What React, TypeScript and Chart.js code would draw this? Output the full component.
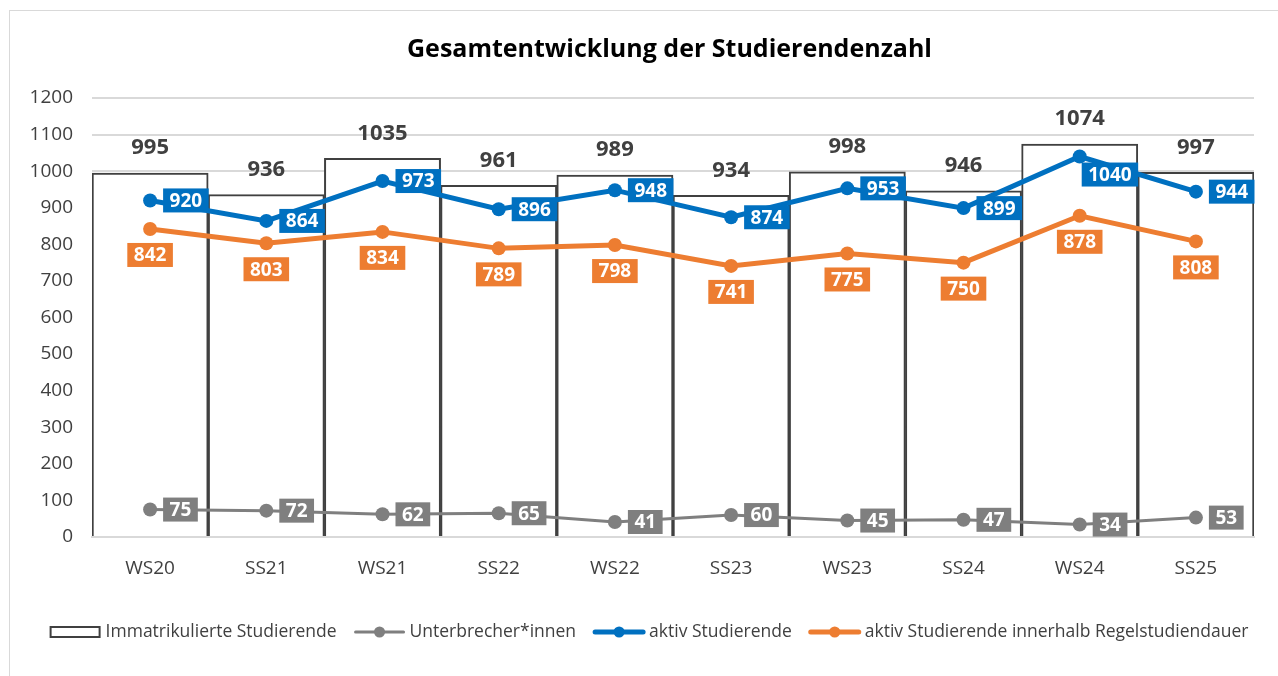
import React, { useEffect, useRef } from 'react';
import { Chart, registerables } from 'chart.js';

Chart.register(...registerables);

const chartTitle = 'Gesamtentwicklung der Studierendenzahl';
const categories = ['WS20', 'SS21', 'WS21', 'SS22', 'WS22', 'SS23', 'WS23', 'SS24', 'WS24', 'SS25'];
const immatrikuliert = [995, 936, 1035, 961, 989, 934, 998, 946, 1074, 997];
const unterbrecher = [75, 72, 62, 65, 41, 60, 45, 47, 34, 53];
const aktiv = [920, 864, 973, 896, 948, 874, 953, 899, 1040, 944];
const regelstudiendauer = [842, 803, 834, 789, 798, 741, 775, 750, 878, 808];
const yTickValues = [0, 100, 200, 300, 400, 500, 600, 700, 800, 900, 1000, 1100, 1200];
const seriesNames = [
  'Immatrikulierte Studierende',
  'Unterbrecher*innen',
  'aktiv Studierende',
  'aktiv Studierende innerhalb Regelstudiendauer',
];

const FONT = '"Open Sans", "Liberation Sans", sans-serif';
const GRAY = '#7F7F7F';
const BLUE = '#0070C0';
const ORANGE = '#ED7D31';
const TEXT = '#404040';

function drawBox(ctx: CanvasRenderingContext2D, text: string, x: number, y: number, pos: string, color: string) {
  ctx.font = `bold 19px ${FONT}`;
  const w = ctx.measureText(text).width + 13;
  const h = 24;
  let bx: number, by: number;
  if (pos === 'right') {
    bx = x + 13;
    by = y - h / 2;
  } else if (pos === 'below') {
    bx = x - w / 2;
    by = y + 14;
  } else {
    bx = x + 2;
    by = y + 6;
  }
  ctx.fillStyle = color;
  ctx.fillRect(bx, by, w, h);
  ctx.fillStyle = '#FFFFFF';
  ctx.textAlign = 'center';
  ctx.textBaseline = 'middle';
  ctx.fillText(text, bx + w / 2, by + h / 2 + 1);
}

const labelPlugin = {
  id: 'customLabels',
  afterDatasetsDraw(chart: any) {
    const ctx: CanvasRenderingContext2D = chart.ctx;
    ctx.save();
    chart.data.datasets.forEach((ds: any, i: number) => {
      const meta = chart.getDatasetMeta(i);
      meta.data.forEach((el: any, j: number) => {
        const v = ds.data[j];
        if (ds.type === 'bar') {
          ctx.font = `bold 22px ${FONT}`;
          ctx.fillStyle = TEXT;
          ctx.textAlign = 'center';
          ctx.textBaseline = 'middle';
          ctx.fillText(String(v), el.x, el.y - 25);
        } else {
          const pos = (ds.labelOverrides && ds.labelOverrides[j]) || ds.labelPos;
          drawBox(ctx, String(v), el.x, el.y, pos, ds.borderColor);
        }
      });
    });
    ctx.restore();
  },
  afterDraw(chart: any) {
    const ctx: CanvasRenderingContext2D = chart.ctx;
    ctx.save();
    // title
    ctx.font = `bold 25px ${FONT}`;
    ctx.fillStyle = '#000000';
    ctx.textAlign = 'center';
    ctx.textBaseline = 'middle';
    ctx.fillText(chartTitle, 659.5, 39);

    // legend
    const items = [
      { text: seriesNames[0], kind: 'bar', color: TEXT, lw: 2 },
      { text: seriesNames[1], kind: 'line', color: GRAY, lw: 3 },
      { text: seriesNames[2], kind: 'line', color: BLUE, lw: 5 },
      { text: seriesNames[3], kind: 'line', color: ORANGE, lw: 5 },
    ];
    const legendFont = `17.5px ${FONT}`;
    ctx.font = legendFont;
    const iconW = 52;
    const iconGap = 4;
    const itemGap = 17;
    const widths = items.map((it) => ctx.measureText(it.text).width);
    const total = widths.reduce((a, b) => a + b, 0) + items.length * (iconW + iconGap) + itemGap * (items.length - 1);
    let x = 639 - total / 2;
    const y = 621;
    items.forEach((it, k) => {
      if (it.kind === 'bar') {
        ctx.strokeStyle = it.color;
        ctx.lineWidth = 2;
        ctx.strokeRect(x + 1, y - 5, iconW - 3, 10);
      } else {
        ctx.strokeStyle = it.color;
        ctx.lineWidth = it.lw;
        ctx.lineCap = 'round';
        ctx.beginPath();
        ctx.moveTo(x + 2, y);
        ctx.lineTo(x + iconW - 2, y);
        ctx.stroke();
        ctx.fillStyle = it.color;
        ctx.beginPath();
        ctx.arc(x + iconW / 2, y, 5.5, 0, Math.PI * 2);
        ctx.fill();
      }
      ctx.fillStyle = TEXT;
      ctx.textAlign = 'left';
      ctx.textBaseline = 'middle';
      ctx.font = legendFont;
      ctx.fillText(it.text, x + iconW + iconGap, y);
      x += iconW + iconGap + widths[k] + itemGap;
    });
    ctx.restore();
  },
};

export default function App() {
  const ref = useRef<HTMLCanvasElement>(null);
  useEffect(() => {
    const lineDs = (label: string, data: number[], color: string, width: number, pos: string, order: number, overrides?: any) => ({
      type: 'line' as const,
      label,
      data,
      borderColor: color,
      backgroundColor: color,
      borderWidth: width,
      pointRadius: 7,
      pointHoverRadius: 7,
      pointBackgroundColor: color,
      pointBorderWidth: 0,
      tension: 0,
      order,
      labelPos: pos,
      labelOverrides: overrides,
    });
    const chart = new Chart(ref.current!, {
      type: 'bar',
      data: {
        labels: categories,
        datasets: [
          {
            type: 'bar',
            label: seriesNames[0],
            data: immatrikuliert,
            backgroundColor: '#FFFFFF',
            borderColor: TEXT,
            borderWidth: 2,
            borderSkipped: 'bottom',
            categoryPercentage: 1,
            barPercentage: 1,
            order: 10,
          } as any,
          lineDs(seriesNames[1], unterbrecher, GRAY, 3, 'right', 3),
          lineDs(seriesNames[2], aktiv, BLUE, 5, 'right', 2, { 8: 'belowRight' }),
          lineDs(seriesNames[3], regelstudiendauer, ORANGE, 5, 'below', 1),
        ] as any,
      },
      options: {
        animation: false,
        responsive: false,
        events: [],
        layout: { padding: { top: 87, left: 0, right: 24, bottom: 79 } },
        plugins: {
          legend: { display: false },
          title: { display: false },
          tooltip: { enabled: false },
        },
        scales: {
          x: {
            grid: { display: false },
            border: { display: true, color: '#D9D9D9', width: 2 },
            ticks: { color: TEXT, font: { family: FONT, size: 19 }, padding: 12 },
            afterFit: (s: any) => {
              s.height = 60;
            },
          },
          y: {
            min: 0,
            max: 1200,
            afterBuildTicks: (s: any) => {
              s.ticks = yTickValues.map((v) => ({ value: v }));
            },
            grid: { color: '#D9D9D9', lineWidth: 2, drawTicks: false },
            border: { display: false },
            ticks: {
              color: TEXT,
              font: { family: FONT, size: 19 },
              padding: 19,
              callback: (v: any) => String(v),
            },
            afterFit: (s: any) => {
              s.width = 82;
            },
          },
        },
      } as any,
      plugins: [labelPlugin],
    });
    return () => chart.destroy();
  }, []);
  return (
    <div
      style={{
        position: 'fixed',
        left: 9,
        top: 10,
        width: 1269,
        height: 666,
        borderTop: '1px solid #D9D9D9',
        borderLeft: '1px solid #D9D9D9',
        background: '#FFFFFF',
        overflow: 'hidden',
      }}
    >
      <canvas ref={ref} width={1268} height={665} style={{ display: 'block' }} />
    </div>
  );
}
